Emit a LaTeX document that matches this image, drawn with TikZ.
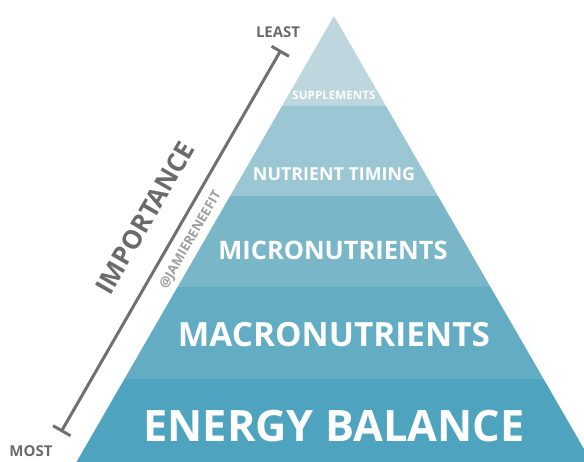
\documentclass[tikz,border=0pt]{standalone}
\usepackage{fontspec}
\setmainfont{Open Sans}
\usetikzlibrary{arrows.meta}
\definecolor{bandA}{HTML}{BED6DE}
\definecolor{bandB}{HTML}{9BC6D3}
\definecolor{bandC}{HTML}{78B6C8}
\definecolor{bandD}{HTML}{62ADC3}
\definecolor{bandE}{HTML}{4EA4BE}
\definecolor{txtgray}{HTML}{6B6B6B}
\definecolor{linegray}{HTML}{707070}
\definecolor{taggray}{HTML}{9E9E9E}
\newcommand{\pyrtext}[2]{\resizebox{#1}{!}{\bfseries #2}}
\tikzset{
  pyrlabel/.style={inner sep=0pt, text=white},
  sidelabel/.style={inner sep=0pt, text=txtgray},
  scaleline/.style={draw=linegray, line width=3pt, {Bar[width=20pt]}-{Bar[width=20pt]}}
}
\begin{document}
\begin{tikzpicture}[x=1pt,y=-1pt]
\useasboundingbox (0,0) rectangle (584,461);
\begin{scope}
  \clip (0,0) rectangle (584,461);
  \clip (334,16) -- (66.1,480) -- (601.9,480) -- cycle;
  \fill[bandA] (0,10) rectangle (584,106);
  \fill[bandB] (0,106) rectangle (584,196);
  \fill[bandC] (0,196) rectangle (584,287);
  \fill[bandD] (0,287) rectangle (584,379);
  \fill[bandE] (0,379) rectangle (584,480);
\end{scope}
\node[pyrlabel] (supp) at (334,95) {\pyrtext{83pt}{SUPPLEMENTS}};
\node[pyrlabel] (timing) at (334,174) {\pyrtext{162pt}{NUTRIENT TIMING}};
\node[pyrlabel] (micro) at (333,250) {\pyrtext{229pt}{MICRONUTRIENTS}};
\node[pyrlabel] (macro) at (334,335) {\pyrtext{312pt}{MACRONUTRIENTS}};
\node[pyrlabel] (energy) at (334,426) {\pyrtext{381pt}{ENERGY BALANCE}};
\coordinate (least end) at (281,50);
\coordinate (most end) at (61,432);
\draw[scaleline] (least end) -- (most end);
\node[sidelabel] (least) at (278,32) {\pyrtext{44pt}{LEAST}};
\node[sidelabel] (most) at (31,451) {\pyrtext{43pt}{MOST}};
\node[sidelabel, rotate=60] (imp) at (145,218) {\pyrtext{171pt}{IMPORTANCE}};
\node[inner sep=0pt, text=taggray, rotate=60] (tag) at (191,240) {\pyrtext{110pt}{@JAMIERENEEFIT}};
\end{tikzpicture}
\end{document}
